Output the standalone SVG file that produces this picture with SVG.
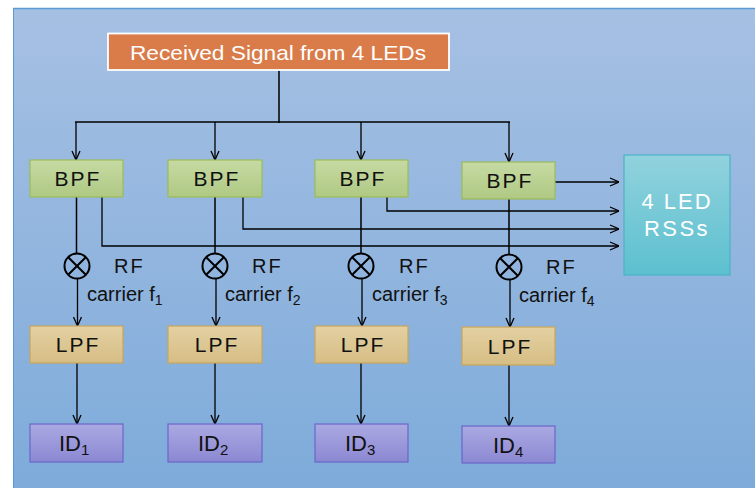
<svg xmlns="http://www.w3.org/2000/svg" width="755" height="488" viewBox="0 0 755 488">
<defs>
<linearGradient id="bg" x1="0" y1="0" x2="0" y2="1"><stop offset="0" stop-color="#a6c0e3"/><stop offset="1" stop-color="#7eabda"/></linearGradient>
<linearGradient id="gBPF" x1="0" y1="0" x2="0" y2="1"><stop offset="0" stop-color="#c6daa3"/><stop offset="1" stop-color="#afc983"/></linearGradient>
<linearGradient id="gLPF" x1="0" y1="0" x2="0" y2="1"><stop offset="0" stop-color="#e3d0a2"/><stop offset="1" stop-color="#d6bd84"/></linearGradient>
<linearGradient id="gID" x1="0" y1="0" x2="0" y2="1"><stop offset="0" stop-color="#aba9e2"/><stop offset="1" stop-color="#8b88d3"/></linearGradient>
<linearGradient id="gRSS" x1="0" y1="0" x2="0" y2="1"><stop offset="0" stop-color="#91d2dd"/><stop offset="1" stop-color="#5cc0cf"/></linearGradient>
<marker id="arr" viewBox="0 0 10 10" refX="10" refY="5" markerWidth="10" markerHeight="10" markerUnits="userSpaceOnUse" orient="auto">
<path d="M1,1 L10,5 L1,9" fill="none" stroke="#000" stroke-width="1.3"/>
</marker>
</defs>
<style>
.t{font-family:"Liberation Sans",Arial,sans-serif;}
.bpf{fill:url(#gBPF);stroke:#9bbb59;stroke-width:1.2;}
.lpf{fill:url(#gLPF);stroke:#c9a65a;stroke-width:1.2;}
.id{fill:url(#gID);stroke:#6a67c9;stroke-width:1.2;}
.lbl{font-size:21px;fill:#111;text-anchor:middle;letter-spacing:2px;}
.idl{font-size:22px;fill:#111;}
.rf{font-size:20px;fill:#111;letter-spacing:2px;}
.car{font-size:20px;fill:#111;}
.w{stroke:#000;fill:none;stroke-width:1.5;}
.wa{stroke:#000;fill:none;stroke-width:1.3;marker-end:url(#arr);}
.mix{fill:none;stroke:#000;stroke-width:2;}
</style>
<rect x="13" y="8.5" width="742" height="480" fill="url(#bg)"/>
<line x1="13" y1="8.5" x2="755" y2="8.5" stroke="#5b9bd5" stroke-width="1.5"/>
<line x1="13.5" y1="8" x2="13.5" y2="488" stroke="#5b9bd5" stroke-width="1"/>

<g id="connectors">
<path class="w" d="M279,70 V123" stroke-width="2.2"/>
<path class="w" d="M75,122 H510" stroke-width="2.2"/>
<path class="wa" d="M76,122 V160"/>
<path class="wa" d="M215,122 V160"/>
<path class="wa" d="M361,122 V160"/>
<path class="wa" d="M509,122 V162"/>
<path class="wa" d="M102,197 V246 H619" stroke-width="1.6"/>
<path class="wa" d="M243,197 V229 H619" stroke-width="1.6"/>
<path class="wa" d="M387,197 V211 H619" stroke-width="1.6"/>
<path class="wa" d="M555,182 H619"/>
<path class="w" d="M76.5,197 V253.5" stroke-width="2"/>
<path class="w" d="M215,197 V253.5" stroke-width="2"/>
<path class="w" d="M361,197 V253.5" stroke-width="2"/>
<path class="w" d="M509,199 V254.5" stroke-width="2"/>
<path class="wa" d="M77.5,278.5 V326"/>
<path class="wa" d="M216,278.5 V326"/>
<path class="wa" d="M362,278.5 V326"/>
<path class="wa" d="M510,279.5 V327"/>
<path class="wa" d="M77,363 V424"/>
<path class="wa" d="M215,363 V424"/>
<path class="wa" d="M361,363 V424"/>
<path class="wa" d="M509,365 V426"/>
</g>

<g id="source">
<rect x="108" y="33.5" width="341" height="36.5" fill="#d97c4a" stroke="#ffffff" stroke-width="1.8"/>
<text class="t" x="278" y="60" font-size="21" fill="#ffffff" text-anchor="middle" textLength="296" lengthAdjust="spacingAndGlyphs">Received Signal from 4 LEDs</text>
</g>

<g id="bpf1"><rect class="bpf" x="30" y="160" width="93" height="37"/><text class="t lbl" x="78" y="186">BPF</text></g>
<g id="bpf2"><rect class="bpf" x="168" y="160" width="94" height="37"/><text class="t lbl" x="217" y="186">BPF</text></g>
<g id="bpf3"><rect class="bpf" x="315" y="160" width="93" height="37"/><text class="t lbl" x="363" y="186">BPF</text></g>
<g id="bpf4"><rect class="bpf" x="462" y="162" width="93" height="37"/><text class="t lbl" x="510" y="188">BPF</text></g>

<g id="rss">
<rect x="624" y="155" width="106" height="120" fill="url(#gRSS)" stroke="#4bb3c6" stroke-width="1.2"/>
<text class="t" x="677" y="209" font-size="22" fill="#ffffff" text-anchor="middle" letter-spacing="2">4 LED</text>
<text class="t" x="677" y="236" font-size="22" fill="#ffffff" text-anchor="middle" letter-spacing="2.5">RSSs</text>
</g>

<g id="mixer1"><circle class="mix" cx="77" cy="266" r="12.5"/><path class="mix" d="M68.2,257.2 L85.8,274.8 M85.8,257.2 L68.2,274.8"/>
<text class="t rf" x="114" y="273">RF</text><text class="t car" x="87" y="301">carrier f<tspan font-size="14" dy="4">1</tspan></text></g>
<g id="mixer2"><circle class="mix" cx="215" cy="266" r="12.5"/><path class="mix" d="M206.2,257.2 L223.8,274.8 M223.8,257.2 L206.2,274.8"/>
<text class="t rf" x="252" y="273">RF</text><text class="t car" x="225" y="301">carrier f<tspan font-size="14" dy="4">2</tspan></text></g>
<g id="mixer3"><circle class="mix" cx="361" cy="266" r="12.5"/><path class="mix" d="M352.2,257.2 L369.8,274.8 M369.8,257.2 L352.2,274.8"/>
<text class="t rf" x="399" y="273">RF</text><text class="t car" x="372" y="301">carrier f<tspan font-size="14" dy="4">3</tspan></text></g>
<g id="mixer4"><circle class="mix" cx="509" cy="267" r="12.5"/><path class="mix" d="M500.2,258.2 L517.8,275.8 M517.8,258.2 L500.2,275.8"/>
<text class="t rf" x="546" y="274">RF</text><text class="t car" x="519" y="302">carrier f<tspan font-size="14" dy="4">4</tspan></text></g>

<g id="lpf1"><rect class="lpf" x="30" y="326" width="93" height="37"/><text class="t lbl" x="78" y="352">LPF</text></g>
<g id="lpf2"><rect class="lpf" x="168" y="326" width="94" height="37"/><text class="t lbl" x="217" y="352">LPF</text></g>
<g id="lpf3"><rect class="lpf" x="315" y="326" width="93" height="37"/><text class="t lbl" x="363" y="352">LPF</text></g>
<g id="lpf4"><rect class="lpf" x="462" y="327" width="93" height="38"/><text class="t lbl" x="510" y="354">LPF</text></g>

<g id="id1"><rect class="id" x="30" y="424" width="93" height="38"/><text class="t idl" x="59" y="451">ID<tspan font-size="15" dy="4">1</tspan></text></g>
<g id="id2"><rect class="id" x="168" y="424" width="94" height="38"/><text class="t idl" x="198" y="451">ID<tspan font-size="15" dy="4">2</tspan></text></g>
<g id="id3"><rect class="id" x="315" y="424" width="93" height="38"/><text class="t idl" x="345" y="451">ID<tspan font-size="15" dy="4">3</tspan></text></g>
<g id="id4"><rect class="id" x="462" y="426" width="93" height="37"/><text class="t idl" x="493" y="453">ID<tspan font-size="15" dy="4">4</tspan></text></g>
</svg>
